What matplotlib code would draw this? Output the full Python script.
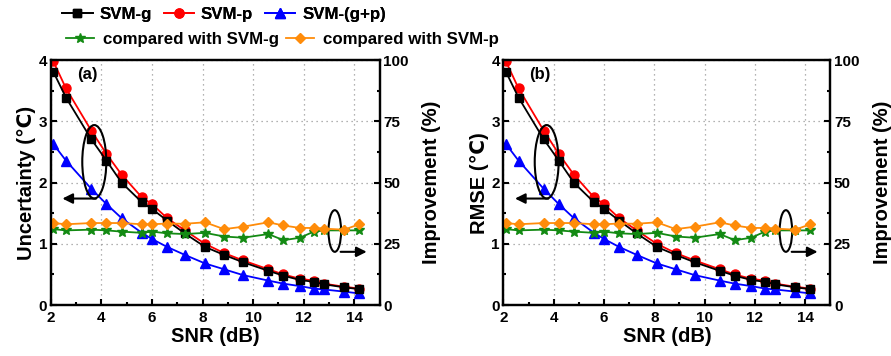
import matplotlib
matplotlib.use('Agg')
import matplotlib.pyplot as plt
from matplotlib.patches import Ellipse
from matplotlib.ticker import MultipleLocator

plt.rcParams['font.family'] = ['Liberation Sans', 'DejaVu Sans']
plt.rcParams['font.weight'] = 'bold'

snr = [2.1, 2.6, 3.6, 4.2, 4.8, 5.6, 6.0, 6.6, 7.3, 8.1, 8.85, 9.6,
       10.6, 11.2, 11.85, 12.4, 12.8, 13.6, 14.2]
svm_g = [3.81, 3.39, 2.71, 2.36, 2.00, 1.68, 1.57, 1.38, 1.17, 0.95, 0.82, 0.70,
         0.56, 0.48, 0.41, 0.38, 0.34, 0.29, 0.26]
svm_p = [3.98, 3.54, 2.85, 2.47, 2.13, 1.76, 1.65, 1.42, 1.22, 1.00, 0.85, 0.73,
         0.585, 0.50, 0.43, 0.40, 0.35, 0.30, 0.27]
svm_gp = [2.63, 2.36, 1.90, 1.65, 1.42, 1.18, 1.08, 0.95, 0.82, 0.68, 0.585, 0.49,
          0.40, 0.35, 0.31, 0.27, 0.255, 0.22, 0.19]
mejora_g = [31.0, 30.5, 30.8, 30.5, 30.0, 29.5, 30.0, 29.3, 29.0, 29.5, 28.0, 27.5,
            29.0, 26.5, 27.5, 30.0, 30.5, 30.5, 30.5]
mejora_p = [33.5, 33.0, 33.5, 33.5, 33.5, 33.0, 33.0, 33.3, 33.2, 33.8, 31.0, 32.0,
            33.8, 32.5, 31.5, 31.5, 31.2, 30.8, 33.0]

paneles = [('Uncertainty (\u2103)', '(a)'), ('RMSE (\u2103)', '(b)')]

fig = plt.figure(figsize=(8.91, 3.56), dpi=100)
posiciones = [[0.057, 0.143, 0.369, 0.688], [0.565, 0.143, 0.367, 0.688]]

handles = []
for (ylabel, letra), pos in zip(paneles, posiciones):
    ax = fig.add_axes(pos)
    ax2 = ax.twinx()

    l1, = ax.plot(snr, svm_g, color='black', marker='s', ms=6, lw=1.3, label='SVM-g', zorder=3)
    l2, = ax.plot(snr, svm_p, color='#ff0000', marker='o', ms=6.5, lw=1.3, label='SVM-p', zorder=2)
    l3, = ax.plot(snr, svm_gp, color='#0000ff', marker='^', ms=6.5, lw=1.3, label='SVM-(g+p)', zorder=2)
    l4, = ax2.plot(snr, mejora_g, color='#138a13', marker='*', ms=7.5, lw=1.3, label='compared with SVM-g')
    l5, = ax2.plot(snr, mejora_p, color='#ff8c0a', marker='D', ms=5.5, lw=1.3, label='compared with SVM-p')
    handles = [l1, l2, l3, l4, l5]

    ax.set_xlim(2, 15)
    ax.set_ylim(0, 4)
    ax2.set_ylim(0, 100)
    ax.xaxis.set_major_locator(MultipleLocator(2))
    ax.xaxis.set_minor_locator(MultipleLocator(1))
    ax.yaxis.set_major_locator(MultipleLocator(1))
    ax.yaxis.set_minor_locator(MultipleLocator(0.5))
    ax2.yaxis.set_major_locator(MultipleLocator(25))
    ax2.yaxis.set_minor_locator(MultipleLocator(12.5))
    ax.grid(True, which='major', linestyle=(0, (1, 3)), color='#999999', lw=0.9)

    for a in (ax, ax2):
        a.tick_params(which='both', direction='in', labelsize=11, width=1.5, pad=2.5)
        a.tick_params(which='major', length=4)
        a.tick_params(which='minor', length=2.5)
        for s in a.spines.values():
            s.set_linewidth(1.6)
    ax.tick_params(axis='x', pad=4)

    ax.set_xlabel('SNR (dB)', fontsize=14.5, fontweight='bold', labelpad=2)
    ax.set_ylabel(ylabel, fontsize=14.5, fontweight='bold', labelpad=2)
    ax2.set_ylabel('Improvement (%)', fontsize=14.5, fontweight='bold', labelpad=10)

    ax.text(3.45, 3.76, letra, fontsize=12, fontweight='bold', ha='center', va='center')

    ax.add_patch(Ellipse((3.72, 2.34), 0.95, 1.2, fill=False, ec='black', lw=1.5, zorder=5))
    ax.annotate('', xy=(2.35, 1.74), xytext=(3.9, 1.74),
                arrowprops=dict(arrowstyle='-|>', color='black', lw=1.5, mutation_scale=15))
    ax.add_patch(Ellipse((13.23, 1.21), 0.5, 0.68, fill=False, ec='black', lw=1.5, zorder=5))
    ax.annotate('', xy=(14.6, 0.87), xytext=(13.35, 0.87),
                arrowprops=dict(arrowstyle='-|>', color='black', lw=1.5, mutation_scale=15))

leg1 = fig.legend(handles=handles[:3], loc='center left', bbox_to_anchor=(0.062, 0.96),
                  ncol=3, frameon=False, fontsize=12.2, handlelength=1.8, columnspacing=0.7,
                  handletextpad=0.4, borderaxespad=0)
fig.add_artist(leg1)
fig.legend(handles=handles[3:], loc='center left', bbox_to_anchor=(0.066, 0.888),
           ncol=2, frameon=False, fontsize=12.2, handlelength=1.7, columnspacing=0.4,
           handletextpad=0.5, borderaxespad=0)

plt.savefig('out.png', dpi=100)
plt.close()
